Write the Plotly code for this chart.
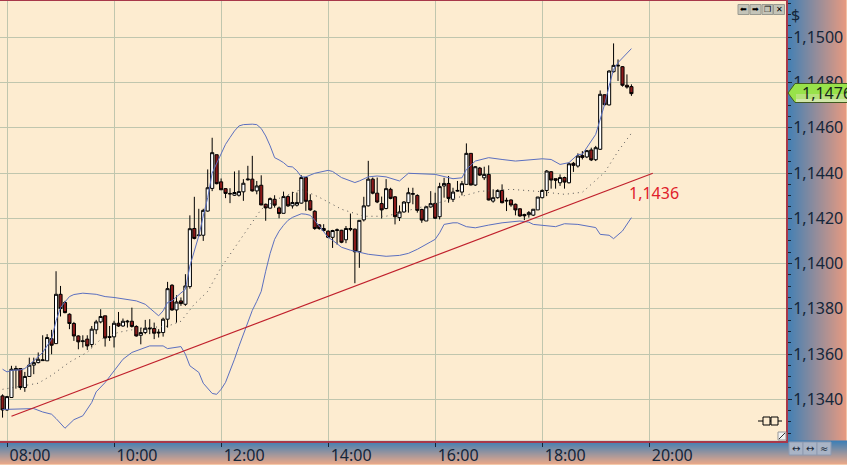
import numpy as np
import pandas as pd
import plotly.graph_objects as go

# Velas de 5 minutos, de 07:55 a 19:40
opens = [1.13415, 1.13353, 1.13408, 1.13530, 1.13536, 1.13452, 1.13501, 1.13551, 1.13562, 1.13571,
         1.13570, 1.13668, 1.13646, 1.13864, 1.13828, 1.13776, 1.13735, 1.13680, 1.13655, 1.13666,
         1.13642, 1.13707, 1.13742, 1.13769, 1.13677, 1.13676, 1.13736, 1.13724, 1.13742, 1.13745,
         1.13722, 1.13683, 1.13695, 1.13711, 1.13713, 1.13693, 1.13695, 1.13754, 1.13904, 1.13795,
         1.13835, 1.13820, 1.13898, 1.14155, 1.14123, 1.14125, 1.14232, 1.14332, 1.14481, 1.14361,
         1.14331, 1.14310, 1.14302, 1.14302, 1.14317, 1.14370, 1.14373, 1.14321, 1.14346, 1.14262,
         1.14245, 1.14284, 1.14246, 1.14222, 1.14296, 1.14255, 1.14258, 1.14267, 1.14380, 1.14278,
         1.14231, 1.14171, 1.14155, 1.14143, 1.14116, 1.14146, 1.14147, 1.14105, 1.14150, 1.14152,
         1.14052, 1.14193, 1.14255, 1.14373, 1.14311, 1.14265, 1.14243, 1.14328, 1.14295, 1.14203,
         1.14228, 1.14269, 1.14306, 1.14301, 1.14239, 1.14188, 1.14250, 1.14266, 1.14207, 1.14343,
         1.14354, 1.14284, 1.14320, 1.14316, 1.14350, 1.14487, 1.14347, 1.14422, 1.14379, 1.14394,
         1.14276, 1.14291, 1.14323, 1.14276, 1.14281, 1.14262, 1.14242, 1.14217, 1.14216, 1.14214,
         1.14237, 1.14291, 1.14323, 1.14406, 1.14375, 1.14357, 1.14380, 1.14357, 1.14443, 1.14431,
         1.14477, 1.14471, 1.14502, 1.14459, 1.14505, 1.14746, 1.14701, 1.14848, 1.14873, 1.14870,
         1.14788, 1.14782]
closes = [1.13353, 1.13412, 1.13533, 1.13536, 1.13452, 1.13501, 1.13551, 1.13562, 1.13577, 1.13574,
          1.13673, 1.13639, 1.13864, 1.13801, 1.13783, 1.13735, 1.13680, 1.13654, 1.13658, 1.13636,
          1.13710, 1.13742, 1.13766, 1.13671, 1.13674, 1.13736, 1.13724, 1.13745, 1.13745, 1.13722,
          1.13680, 1.13695, 1.13714, 1.13714, 1.13692, 1.13696, 1.13754, 1.13889, 1.13795, 1.13830,
          1.13823, 1.13901, 1.14154, 1.14111, 1.14126, 1.14235, 1.14335, 1.14490, 1.14353, 1.14326,
          1.14310, 1.14308, 1.14314, 1.14318, 1.14355, 1.14373, 1.14321, 1.14343, 1.14259, 1.14246,
          1.14287, 1.14258, 1.14221, 1.14296, 1.14255, 1.14270, 1.14270, 1.14380, 1.14275, 1.14237,
          1.14155, 1.14155, 1.14146, 1.14116, 1.14146, 1.14149, 1.14094, 1.14155, 1.14155, 1.14052,
          1.14191, 1.14255, 1.14373, 1.14311, 1.14272, 1.14237, 1.14331, 1.14288, 1.14207, 1.14228,
          1.14272, 1.14313, 1.14309, 1.14235, 1.14192, 1.14251, 1.14265, 1.14200, 1.14340, 1.14354,
          1.14288, 1.14316, 1.14323, 1.14353, 1.14487, 1.14347, 1.14428, 1.14391, 1.14394, 1.14281,
          1.14291, 1.14323, 1.14269, 1.14279, 1.14259, 1.14237, 1.14210, 1.14211, 1.14225, 1.14240,
          1.14294, 1.14323, 1.14409, 1.14369, 1.14368, 1.14380, 1.14360, 1.14441, 1.14434, 1.14475,
          1.14469, 1.14499, 1.14458, 1.14512, 1.14748, 1.14702, 1.14851, 1.14876, 1.14876, 1.14788,
          1.14780, 1.14751]
highs = [1.13422, 1.13415, 1.13548, 1.13548, 1.13536, 1.13521, 1.13584, 1.13584, 1.13607, 1.13683,
         1.13688, 1.13707, 1.13966, 1.13901, 1.13835, 1.13780, 1.13742, 1.13683, 1.13683, 1.13683,
         1.13724, 1.13751, 1.13798, 1.13769, 1.13724, 1.13747, 1.13786, 1.13757, 1.13751, 1.13805,
         1.13727, 1.13717, 1.13751, 1.13754, 1.13739, 1.13710, 1.13761, 1.13919, 1.13909, 1.13860,
         1.13850, 1.13953, 1.14213, 1.14295, 1.14242, 1.14242, 1.14416, 1.14556, 1.14481, 1.14376,
         1.14333, 1.14333, 1.14407, 1.14412, 1.14373, 1.14432, 1.14476, 1.14365, 1.14390, 1.14265,
         1.14292, 1.14302, 1.14252, 1.14318, 1.14302, 1.14317, 1.14314, 1.14390, 1.14383, 1.14306,
         1.14236, 1.14174, 1.14174, 1.14147, 1.14149, 1.14155, 1.14149, 1.14166, 1.14221, 1.14155,
         1.14191, 1.14295, 1.14454, 1.14380, 1.14380, 1.14296, 1.14373, 1.14335, 1.14298, 1.14257,
         1.14276, 1.14335, 1.14335, 1.14306, 1.14242, 1.14254, 1.14320, 1.14313, 1.14357, 1.14379,
         1.14387, 1.14335, 1.14365, 1.14365, 1.14531, 1.14487, 1.14431, 1.14427, 1.14428, 1.14434,
         1.14328, 1.14328, 1.14350, 1.14291, 1.14284, 1.14265, 1.14244, 1.14220, 1.14232, 1.14240,
         1.14294, 1.14328, 1.14413, 1.14409, 1.14375, 1.14394, 1.14384, 1.14446, 1.14449, 1.14487,
         1.14497, 1.14502, 1.14512, 1.14520, 1.14765, 1.14748, 1.14854, 1.14973, 1.14902, 1.14873,
         1.14836, 1.14792]
lows = [1.13319, 1.13349, 1.13408, 1.13447, 1.13442, 1.13433, 1.13501, 1.13511, 1.13559, 1.13570,
        1.13570, 1.13599, 1.13646, 1.13766, 1.13780, 1.13710, 1.13658, 1.13621, 1.13629, 1.13618,
        1.13629, 1.13688, 1.13736, 1.13633, 1.13658, 1.13629, 1.13720, 1.13720, 1.13717, 1.13717,
        1.13677, 1.13643, 1.13688, 1.13688, 1.13666, 1.13673, 1.13677, 1.13717, 1.13791, 1.13739,
        1.13813, 1.13813, 1.13889, 1.14107, 1.14122, 1.14100, 1.14229, 1.14320, 1.14350, 1.14326,
        1.14289, 1.14267, 1.14299, 1.14296, 1.14277, 1.14367, 1.14318, 1.14306, 1.14258, 1.14189,
        1.14243, 1.14247, 1.14200, 1.14222, 1.14250, 1.14243, 1.14252, 1.14265, 1.14233, 1.14233,
        1.14149, 1.14149, 1.14140, 1.14112, 1.14069, 1.14084, 1.14090, 1.14090, 1.14143, 1.13913,
        1.13981, 1.14186, 1.14252, 1.14306, 1.14267, 1.14199, 1.14240, 1.14284, 1.14173, 1.14188,
        1.14225, 1.14225, 1.14262, 1.14225, 1.14180, 1.14188, 1.14247, 1.14198, 1.14195, 1.14291,
        1.14269, 1.14272, 1.14318, 1.14301, 1.14350, 1.14346, 1.14343, 1.14387, 1.14369, 1.14279,
        1.14269, 1.14287, 1.14266, 1.14232, 1.14251, 1.14213, 1.14207, 1.14192, 1.14203, 1.14210,
        1.14237, 1.14288, 1.14298, 1.14331, 1.14331, 1.14343, 1.14331, 1.14354, 1.14405, 1.14424,
        1.14460, 1.14466, 1.14453, 1.14453, 1.14502, 1.14699, 1.14699, 1.14844, 1.14807, 1.14782,
        1.14773, 1.14741]

upper_idx = [-1, 0, 1, 3, 4, 5, 6, 8, 9, 10, 11, 12, 13, 14, 15, 17, 20, 22, 24, 27, 29, 31, 32, 33, 34, 35, 36, 37, 39, 40, 41, 43, 44, 45, 46, 47, 48, 49, 50, 51, 52, 53, 55, 56, 57, 58, 59, 60, 61, 62, 63, 64, 65, 66, 67, 68, 69, 72, 73, 75, 77, 78, 79, 81, 83, 85, 88, 90, 96, 100, 102, 103, 105, 108, 111, 114, 120, 122, 124, 126, 128, 129, 132, 133, 134, 135, 136, 137, 138, 140]
upper = [1.13533, 1.13521, 1.13528, 1.13530, 1.13536, 1.13551, 1.13570, 1.13607, 1.13639, 1.13666, 1.13747, 1.13805, 1.13830, 1.13854, 1.13863, 1.13869, 1.13864, 1.13854, 1.13850, 1.13842, 1.13835, 1.13820, 1.13801, 1.13786, 1.13769, 1.13791, 1.13828, 1.13835, 1.13870, 1.13886, 1.13989, 1.14122, 1.14210, 1.14291, 1.14400, 1.14440, 1.14483, 1.14527, 1.14557, 1.14586, 1.14608, 1.14614, 1.14616, 1.14614, 1.14597, 1.14564, 1.14520, 1.14468, 1.14458, 1.14446, 1.14429, 1.14427, 1.14410, 1.14383, 1.14383, 1.14392, 1.14399, 1.14412, 1.14407, 1.14380, 1.14365, 1.14358, 1.14365, 1.14383, 1.14387, 1.14383, 1.14365, 1.14399, 1.14394, 1.14375, 1.14379, 1.14416, 1.14453, 1.14468, 1.14460, 1.14453, 1.14463, 1.14460, 1.14438, 1.14446, 1.14482, 1.14483, 1.14571, 1.14637, 1.14704, 1.14785, 1.14858, 1.14888, 1.14910, 1.14950]
lower_idx = [-1, 0, 3, 6, 8, 10, 11, 13, 15, 17, 19, 20, 22, 24, 26, 28, 29, 32, 35, 36, 39, 40, 41, 43, 44, 46, 47, 48, 49, 50, 51, 52, 53, 54, 55, 56, 57, 58, 59, 60, 61, 62, 63, 64, 65, 66, 67, 68, 69, 70, 71, 72, 73, 75, 77, 79, 81, 85, 88, 90, 92, 95, 96, 97, 98, 100, 101, 103, 105, 108, 111, 115, 117, 118, 121, 123, 125, 128, 132, 133, 135, 136, 138, 140]
lower = [1.13355, 1.13356, 1.13356, 1.13359, 1.13344, 1.13334, 1.13315, 1.13272, 1.13310, 1.13327, 1.13386, 1.13433, 1.13474, 1.13526, 1.13577, 1.13607, 1.13614, 1.13636, 1.13636, 1.13624, 1.13633, 1.13599, 1.13548, 1.13519, 1.13471, 1.13426, 1.13422, 1.13444, 1.13475, 1.13524, 1.13577, 1.13634, 1.13687, 1.13740, 1.13793, 1.13833, 1.13877, 1.13966, 1.14045, 1.14107, 1.14143, 1.14169, 1.14191, 1.14204, 1.14213, 1.14220, 1.14218, 1.14213, 1.14191, 1.14165, 1.14138, 1.14116, 1.14103, 1.14072, 1.14059, 1.14050, 1.14041, 1.14032, 1.14036, 1.14045, 1.14063, 1.14096, 1.14107, 1.14136, 1.14173, 1.14180, 1.14180, 1.14163, 1.14158, 1.14170, 1.14180, 1.14188, 1.14183, 1.14173, 1.14166, 1.14163, 1.14176, 1.14173, 1.14159, 1.14129, 1.14125, 1.14110, 1.14144, 1.14203]
mid_idx = [-1, 3, 7, 10, 14, 18, 21, 25, 30, 36, 39, 42, 45, 48, 52, 57, 61, 66, 70, 75, 80, 85, 91, 98, 106, 113, 119, 125, 129, 134, 137, 140]
mid = [1.13444, 1.13457, 1.13471, 1.13506, 1.13564, 1.13608, 1.13665, 1.13696, 1.13714, 1.13723, 1.13745, 1.13820, 1.13877, 1.13983, 1.14098, 1.14240, 1.14288, 1.14328, 1.14293, 1.14240, 1.14209, 1.14209, 1.14240, 1.14275, 1.14319, 1.14328, 1.14319, 1.14306, 1.14315, 1.14403, 1.14496, 1.14576]

# Directriz alcista
trend_times = ['2015-01-05 08:05', '2015-01-05 20:04']
trend_prices = [1.13325, 1.14399]
trend_label = '1,1436'
last_price = '1,1476'

y_ticks = [1.134, 1.136, 1.138, 1.140, 1.142, 1.144, 1.146, 1.148, 1.150]
hours = ['08:00', '10:00', '12:00', '14:00', '16:00', '18:00', '20:00']

W, H = 847, 465
PLOT_R, PLOT_B = 786, 441


def px_x(v):
    return v / W


def px_y(v):
    return 1 - v / H


start = pd.Timestamp('2015-01-05 08:00')
def when(idx):
    return [start + pd.Timedelta(minutes=5 * int(i)) for i in idx]


candle_idx = list(range(-1, len(opens) - 1))
fig = go.Figure()

# Paneles con degradado (van primero para quedar debajo de los rotulos)
side = np.linspace(0, 1, W - PLOT_R)[None, :]
fig.add_trace(go.Heatmap(z=side, x=list(range(PLOT_R, W)), y=[0, PLOT_B + 2], showscale=False,
                         colorscale=[[0, '#3f7fb5'], [1, '#e89a80']], hoverinfo='skip', xaxis='x', yaxis='y'))
bottom = np.linspace(0, 1, H - PLOT_B)[:, None]
fig.add_trace(go.Heatmap(z=bottom, x=[0, W], y=list(range(PLOT_B, H)), showscale=False,
                         colorscale=[[0, '#3f7fb5'], [1, '#eda988']], hoverinfo='skip', xaxis='x', yaxis='y'))

fig.add_trace(go.Candlestick(x=when(candle_idx), open=opens, high=highs, low=lows, close=closes,
                             increasing=dict(fillcolor='white', line=dict(color='black', width=1)),
                             decreasing=dict(fillcolor='#8b1a1a', line=dict(color='black', width=1)),
                             whiskerwidth=0, hoverinfo='skip', xaxis='x2', yaxis='y2'))
fig.add_trace(go.Scatter(x=when(upper_idx), y=upper, mode='lines', line=dict(color='#5b6fbf', width=1),
                         xaxis='x2', yaxis='y2'))
fig.add_trace(go.Scatter(x=when(lower_idx), y=lower, mode='lines', line=dict(color='#5b6fbf', width=1),
                         xaxis='x2', yaxis='y2'))
fig.add_trace(go.Scatter(x=when(mid_idx), y=mid, mode='lines', line=dict(color='#555555', width=1, dash='1px 4px'),
                         xaxis='x2', yaxis='y2'))
fig.add_trace(go.Scatter(x=trend_times, y=trend_prices, mode='lines', line=dict(color='#c0202c', width=1.2),
                         xaxis='x2', yaxis='y2'))

shapes = [
    # etiqueta verde del ultimo precio
    dict(type='path', xref='paper', yref='paper', layer='above', fillcolor='#98e24a', line=dict(color='#405a20', width=1),
         path=f'M {px_x(788)} {px_y(93)} L {px_x(795)} {px_y(83.5)} L {px_x(850)} {px_y(83.5)} L {px_x(850)} {px_y(102.5)} L {px_x(795)} {px_y(102.5)} Z'),
    dict(type='rect', xref='paper', yref='paper', layer='above', x0=px_x(796), x1=px_x(850), y0=px_y(94), y1=px_y(102),
         fillcolor='#b6e27a', line=dict(width=0)),
    dict(type='rect', xref='paper', yref='paper', layer='above', x0=px_x(796), x1=px_x(850), y0=px_y(99), y1=px_y(102),
         fillcolor='#d0e6a8', line=dict(width=0)),
    # icono de enlace
    dict(type='line', xref='paper', yref='paper', x0=px_x(758), x1=px_x(782), y0=px_y(421), y1=px_y(421), line=dict(color='black', width=1)),
    dict(type='rect', xref='paper', yref='paper', x0=px_x(763), x1=px_x(770), y0=px_y(417), y1=px_y(425), fillcolor='#fdecd0', line=dict(color='black', width=1)),
    dict(type='rect', xref='paper', yref='paper', x0=px_x(771), x1=px_x(778), y0=px_y(417), y1=px_y(425), fillcolor='#fdecd0', line=dict(color='black', width=1)),
    # esquina
    dict(type='rect', xref='paper', yref='paper', x0=px_x(778), x1=px_x(786), y0=px_y(432), y1=px_y(440), fillcolor='#f2f2f2', line=dict(color='#999999', width=1)),
    dict(type='line', xref='paper', yref='paper', x0=px_x(779), x1=px_x(785), y0=px_y(439), y1=px_y(433), line=dict(color='#333333', width=1)),
]
annotations = [
    dict(x=trend_times[1], y=1.1431, xref='x2', yref='y2', text=trend_label, showarrow=False, xanchor='right',
         xshift=28, font=dict(family='Noto Sans', size=16, color='#e0202a')),
    dict(x=px_x(800), y=px_y(93.5), xref='paper', yref='paper', text=last_price, showarrow=False, xanchor='left', yanchor='middle',
         font=dict(family='Noto Sans', size=16, color='#14261a')),
    dict(x=px_x(795), y=px_y(15), xref='paper', yref='paper', text='$', showarrow=False, xanchor='center', yanchor='middle',
         font=dict(family='Noto Sans', size=16, color='#14263a')),
]
# botones de la ventana y de la barra inferior
for bx, glyph in zip([743.5, 755.5, 767.5, 779], ['⬅', '➡', '❐', '✕']):
    shapes.append(dict(type='rect', xref='paper', yref='paper', x0=px_x(bx - 5.5), x1=px_x(bx + 5.5), y0=px_y(4.5), y1=px_y(14.5),
                       fillcolor='#c4c4b8', line=dict(color='#9a9a90', width=1)))
    annotations.append(dict(x=px_x(bx), y=px_y(9.5), xref='paper', yref='paper', text=glyph, showarrow=False,
                            xanchor='center', yanchor='middle',
                            font=dict(family='DejaVu Sans', size=8, color='black')))
for bx, glyph in zip([796, 810, 824], ['↔', '↔', '≈']):
    shapes.append(dict(type='rect', xref='paper', yref='paper', x0=px_x(bx - 7), x1=px_x(bx + 7), y0=px_y(442), y1=px_y(455),
                       fillcolor='#a9b4c6', line=dict(color='#8e9ab0', width=1)))
    annotations.append(dict(x=px_x(bx), y=px_y(448.5), xref='paper', yref='paper', text=glyph, showarrow=False,
                            xanchor='center', yanchor='middle',
                            font=dict(family='DejaVu Sans', size=10, color='#1a2a3a')))

fig.update_layout(
    width=W, height=H, margin=dict(l=0, r=0, t=0, b=0, autoexpand=False), showlegend=False,
    paper_bgcolor='#4a7fa8', plot_bgcolor='#fdecd0', separators=',.', boxgap=0.3, boxgroupgap=0,
    font=dict(family='Noto Sans', size=16, color='#14263a'),
    shapes=shapes, annotations=annotations,
    xaxis=dict(domain=[0, 1], range=[0, W], visible=False, fixedrange=True, automargin=False),
    yaxis=dict(domain=[0, 1], range=[H, 0], visible=False, fixedrange=True, automargin=False),
    xaxis2=dict(domain=[0, px_x(PLOT_R)], anchor='y2', type='date', rangeslider=dict(visible=False), automargin=False,
                range=['2015-01-05 07:52:09', '2015-01-05 22:33:18'],
                tickmode='array', tickvals=[f'2015-01-05 {h}' for h in hours], ticktext=hours,
                ticks='outside', ticklen=4, tickcolor='#14263a', ticklabelshift=23, ticklabelstandoff=-5,
                showgrid=True, gridcolor='#c0c6ae', gridwidth=1.2, zeroline=False,
                showline=True, linecolor='#a8384a', linewidth=2, mirror=True),
    yaxis2=dict(domain=[px_y(440.7), px_y(1)], anchor='x2', side='right', automargin=False,
                range=[1.13217, 1.151604],
                tickmode='array', tickvals=y_ticks, tickformat='.4f', ticks='outside', ticklen=4, tickcolor='#14263a',
                ticklabelstandoff=-2,
                minor=dict(dtick=0.0005, ticks='outside', ticklen=3, tickcolor='#14263a', showgrid=False),
                showgrid=True, gridcolor='#c0c6ae', gridwidth=1.2, zeroline=False,
                showline=True, linecolor='#a8384a', linewidth=2, mirror=True),
)

# quita el margen y el desborde del navegador para que la figura llene justo la ventana
page_fix = ("document.body.style.margin='0';document.body.style.overflow='hidden';"
            "document.documentElement.style.overflow='hidden';document.body.style.height='465px';"
            "document.documentElement.style.height='465px';")
fig.write_html("out.html", config={'displayModeBar': False}, post_script=page_fix)
